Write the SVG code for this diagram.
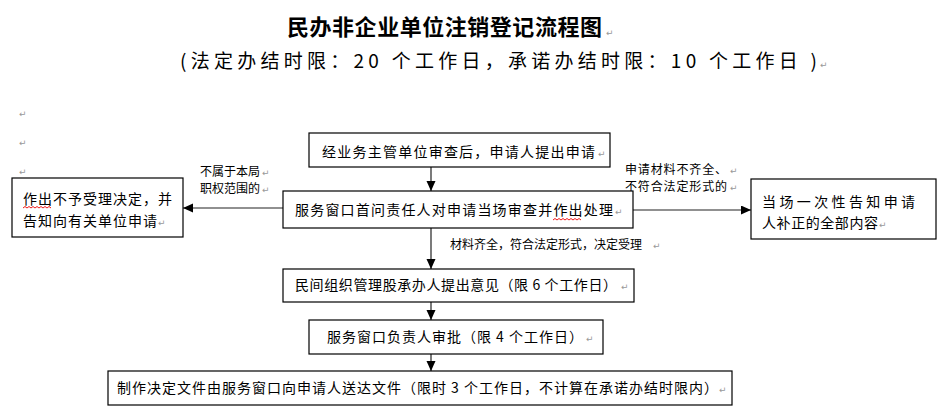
<svg xmlns="http://www.w3.org/2000/svg" width="938" height="419" viewBox="0 0 938 419">
<defs>
<style>
.t{font-family:"Noto Sans CJK SC","Noto Sans",sans-serif;font-size:14px;fill:#000}
.s{font-family:"Noto Sans CJK SC","Noto Sans",sans-serif;font-size:12px;fill:#000}
.b{fill:#fff;stroke:#000;stroke-width:1.2}
.pm{font-family:"DejaVu Sans",sans-serif;font-size:9px;fill:#999}
.c{stroke:#222;stroke-width:1.2;fill:none}
.w{stroke:#e00;stroke-width:0.9;fill:none}
</style>
<marker id="ah" markerUnits="userSpaceOnUse" markerWidth="11" markerHeight="10" refX="10" refY="4.5" orient="auto">
<path d="M0,0 L10,4.5 L0,9 z" fill="#000"/>
</marker>
</defs>
<rect width="938" height="419" fill="#fff"/>

<g id="title">
<text x="287" y="35" font-family="Noto Sans CJK SC,sans-serif" font-size="22" font-weight="bold" textLength="315" lengthAdjust="spacing">民办非企业单位注销登记流程图</text>
<text x="606" y="36" class="pm">↵</text>
<text x="180" y="68" font-family="Noto Sans CJK SC,sans-serif" font-size="19" textLength="637" lengthAdjust="spacing">(法定办结时限：20 个工作日，承诺办结时限：10 个工作日 )</text>
<text x="820" y="68" class="pm">↵</text>
</g>

<g id="margin-marks">
<text x="19" y="117" class="pm">↵</text>
<text x="19" y="146" class="pm">↵</text>
<text x="19" y="175" class="pm">↵</text>
</g>

<g id="connectors">
<line x1="431" y1="167" x2="431" y2="191" class="c" marker-end="url(#ah)"/>
<line x1="431" y1="228" x2="431" y2="269" class="c" marker-end="url(#ah)"/>
<line x1="431" y1="302" x2="431" y2="320" class="c" marker-end="url(#ah)"/>
<line x1="431" y1="354" x2="431" y2="371" class="c" marker-end="url(#ah)"/>
<line x1="283" y1="208" x2="183" y2="208" class="c" stroke-width="1.6" marker-end="url(#ah)"/>
<line x1="621" y1="210" x2="751" y2="210" class="c" stroke-width="1.6" marker-end="url(#ah)"/>
<text x="200" y="176" class="s">不属于本局</text><text x="262" y="176" class="pm">↵</text>
<text x="200" y="193" class="s">职权范围的</text><text x="262" y="193" class="pm">↵</text>
<text x="625" y="174" class="s" textLength="102" lengthAdjust="spacing">申请材料不齐全、</text><text x="730" y="174" class="pm">↵</text>
<text x="625" y="191" class="s" textLength="102" lengthAdjust="spacing">不符合法定形式的</text><text x="730" y="191" class="pm">↵</text>
<text x="450" y="249" class="s">材料齐全，符合法定形式，决定受理</text><text x="653" y="249" class="pm">↵</text>
</g>

<g id="n1">
<rect x="309" y="133" width="301" height="34" class="b"/>
<text x="322" y="157" class="t" textLength="273" lengthAdjust="spacing">经业务主管单位审查后，申请人提出申请</text>
<text x="598" y="157" class="pm">↵</text>
</g>

<g id="n2">
<rect x="283" y="191" width="350" height="37" class="b"/>
<text x="295" y="215" class="t" textLength="318" lengthAdjust="spacing">服务窗口首问责任人对申请当场审查并作出处理</text>
<text x="615" y="215" class="pm">↵</text>
<path d="M553,220 l2,-1.5 l2,1.5 l2,-1.5 l2,1.5 l2,-1.5 l2,1.5 l2,-1.5 l2,1.5 l2,-1.5 l2,1.5 l2,-1.5 l2,1.5 l2,-1.5 l2,1.5" class="w"/>
</g>

<g id="n3">
<rect x="12" y="178" width="171" height="59" class="b"/>
<text x="23" y="204" class="t" textLength="149" lengthAdjust="spacing">作出不予受理决定，并</text>
<text x="23" y="226" class="t" textLength="134" lengthAdjust="spacing">告知向有关单位申请</text>
<text x="158" y="226" class="pm">↵</text>
<path d="M23,208 l2,-1.5 l2,1.5 l2,-1.5 l2,1.5 l2,-1.5 l2,1.5 l2,-1.5 l2,1.5 l2,-1.5 l2,1.5 l2,-1.5 l2,1.5 l2,-1.5 l2,1.5" class="w"/>
</g>

<g id="n4">
<rect x="751" y="179" width="185" height="60" class="b"/>
<text x="762" y="207" class="t" font-size="15" textLength="153" lengthAdjust="spacing">当场一次性告知申请</text>
<text x="762" y="228" class="t" font-size="15" textLength="116" lengthAdjust="spacing">人补正的全部内容</text>
<text x="879" y="228" class="pm">↵</text>
</g>

<g id="n5">
<rect x="283" y="269" width="351" height="33" class="b"/>
<text x="295" y="290" class="t" textLength="322" lengthAdjust="spacing">民间组织管理股承办人提出意见（限 6 个工作日）</text>
<text x="621" y="290" class="pm">↵</text>
</g>

<g id="n6">
<rect x="309" y="320" width="294" height="34" class="b"/>
<text x="327" y="342" class="t" textLength="256" lengthAdjust="spacing">服务窗口负责人审批（限 4 个工作日）</text>
<text x="586" y="342" class="pm">↵</text>
</g>

<g id="n7">
<rect x="108" y="371" width="624" height="34" class="b"/>
<text x="117" y="393" class="t" textLength="601" lengthAdjust="spacing">制作决定文件由服务窗口向申请人送达文件（限时 3 个工作日，不计算在承诺办结时限内）</text>
<text x="719" y="393" class="pm">↵</text>
</g>
</svg>
